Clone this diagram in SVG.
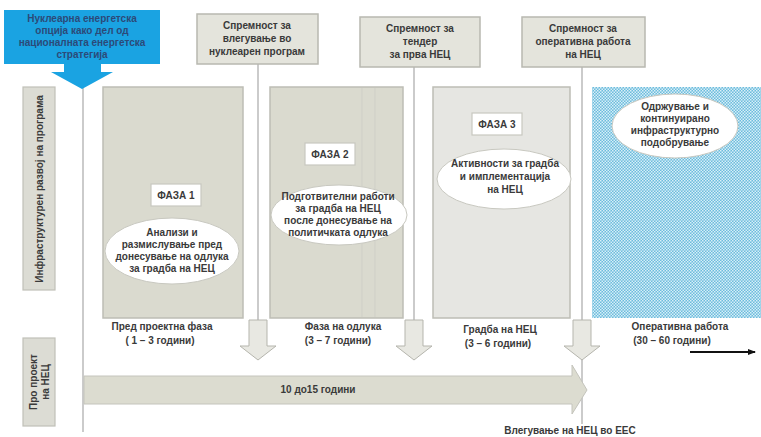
<svg xmlns="http://www.w3.org/2000/svg" width="761" height="437" viewBox="0 0 761 437">
<style>
.t{font-family:"Liberation Sans",Arial,sans-serif;font-weight:bold;font-size:10px;fill:#3a3a3a;text-anchor:middle}
.tb{font-family:"Liberation Sans",Arial,sans-serif;font-weight:bold;font-size:10px;fill:#2c4a78;text-anchor:middle}
.phase{fill:#dadacf;stroke:#bdbdb5;stroke-width:1.5}
.ready{fill:#e4e4dc;stroke:#b8b8b0;stroke-width:1.5}
.lbl{fill:#ffffff;stroke:#c8c8c0;stroke-width:1.2}
.oval{fill:#ffffff;stroke:#c8c8c0;stroke-width:1}
.vl{stroke:#a8a8a8;stroke-width:1.2;fill:none}
.darrow{fill:#e8e8e2;stroke:#b5b5ad;stroke-width:1}
.side{fill:#dcdcd4;stroke:#c0c0b8;stroke-width:1.2}
</style>
<defs>
<pattern id="hatch" width="3" height="3" patternUnits="userSpaceOnUse">
<rect width="3" height="3" fill="#6cbcdc"/>
<rect x="0" y="0" width="1.5" height="1.5" fill="#d8eff8"/>
<rect x="1.5" y="1.5" width="1.5" height="1.5" fill="#d8eff8"/>
</pattern>
<marker id="ah" markerWidth="8" markerHeight="8" refX="7" refY="4" orient="auto" markerUnits="userSpaceOnUse">
<path d="M0,1 L8,4 L0,7 Z" fill="#111"/>
</marker>
</defs>
<rect width="761" height="437" fill="#ffffff"/>

<g id="connectors">
<line class="vl" x1="83" y1="86" x2="83" y2="432"/>
<line class="vl" x1="258" y1="64" x2="258" y2="320"/>
<line class="vl" x1="414" y1="66" x2="414" y2="320"/>
<line class="vl" x1="582" y1="66" x2="582" y2="320"/>
<line class="vl" x1="582" y1="358" x2="582" y2="424"/>
<path class="darrow" d="M249,320 H267 V346 H276 L258,360 L240,346 H249 Z"/>
<path class="darrow" d="M405,320 H423 V346 H432 L414,360 L396,346 H405 Z"/>
<path class="darrow" d="M573,320 H591 V346 H600 L582,360 L564,346 H573 Z"/>
<line x1="690" y1="352" x2="755" y2="352" stroke="#111" stroke-width="2" marker-end="url(#ah)"/>
</g>

<g id="strategy">
<rect x="4" y="10" width="156" height="54" fill="#1aa3e2"/>
<path d="M64,64 H101 V72 H113 L82,89 L51,72 H64 Z" fill="#1aa3e2"/>
<text class="tb" x="82" y="22">Нуклеарна енергетска</text>
<text class="tb" x="82" y="34">опција како дел од</text>
<text class="tb" x="82" y="46">националната енергетска</text>
<text class="tb" x="82" y="58">стратегија</text>
</g>

<g id="side-infra">
<rect class="side" x="23" y="87" width="32" height="203"/>
<text class="t" transform="translate(43,189) rotate(-90)">Инфраструктурен развој на програма</text>
</g>

<g id="side-project">
<rect class="side" x="23" y="338" width="32" height="88"/>
<text class="t" transform="translate(37,382) rotate(-90)">Про проект</text>
<text class="t" transform="translate(49,382) rotate(-90)">на НЕЦ</text>
</g>

<g id="ready1">
<rect class="ready" x="197" y="14" width="121" height="50"/>
<text class="t" x="257" y="29">Спремност за</text>
<text class="t" x="257" y="42">влегување во</text>
<text class="t" x="257" y="55">нуклеарен програм</text>
</g>

<g id="ready2">
<rect class="ready" x="360" y="17" width="120" height="50"/>
<text class="t" x="420" y="32">Спремност за</text>
<text class="t" x="420" y="45">тендер</text>
<text class="t" x="420" y="58">за прва НЕЦ</text>
</g>

<g id="ready3">
<rect class="ready" x="522" y="17" width="123" height="50"/>
<text class="t" x="583" y="32">Спремност за</text>
<text class="t" x="583" y="45">оперативна работа</text>
<text class="t" x="583" y="58">на НЕЦ</text>
</g>

<g id="phase1">
<rect class="phase" x="103" y="87" width="140" height="231"/>
<rect class="lbl" x="151" y="184" width="50" height="22"/>
<text class="t" x="176" y="199">ФАЗА 1</text>
<ellipse class="oval" cx="172" cy="251" rx="67" ry="33"/>
<text class="t" x="172" y="236">Анализи и</text>
<text class="t" x="172" y="248">размислување пред</text>
<text class="t" x="172" y="260">донесување на одлука</text>
<text class="t" x="172" y="272">за градба на НЕЦ</text>
<text class="t" x="162" y="330">Пред проектна фаза</text>
<text class="t" x="160" y="344">( 1 – 3 години)</text>
</g>

<g id="phase2">
<rect class="phase" x="270" y="87" width="133" height="231" fill="#dedcd4"/>
<line x1="362" y1="88" x2="362" y2="317" stroke="#cfcfc7" stroke-width="1"/>
<line x1="375" y1="88" x2="375" y2="317" stroke="#cfcfc7" stroke-width="1"/>
<rect class="lbl" x="305" y="143" width="50" height="22"/>
<text class="t" x="330" y="158">ФАЗА 2</text>
<ellipse class="oval" cx="339" cy="215" rx="68" ry="30"/>
<text class="t" x="338" y="200">Подготвителни работи</text>
<text class="t" x="338" y="212">за градба на НЕЦ</text>
<text class="t" x="338" y="224">после донесување на</text>
<text class="t" x="338" y="236">политичката одлука</text>
<text class="t" x="343" y="330">Фаза на одлука</text>
<text class="t" x="338" y="344">(3 – 7 години)</text>
</g>

<g id="phase3">
<rect class="phase" x="433" y="87" width="137" height="231" style="fill:#e6e6e2"/>
<rect class="lbl" x="472" y="113" width="50" height="22"/>
<text class="t" x="497" y="128">ФАЗА 3</text>
<ellipse class="oval" cx="504" cy="179" rx="67" ry="30"/>
<text class="t" x="505" y="167">Активности за градба</text>
<text class="t" x="505" y="180">и имплементација</text>
<text class="t" x="505" y="193">на НЕЦ</text>
<text class="t" x="500" y="333">Градба на НЕЦ</text>
<text class="t" x="498" y="347">(3 – 6 години)</text>
</g>

<g id="operation">
<rect x="592" y="87" width="169" height="231" fill="url(#hatch)"/>
<ellipse class="oval" cx="675" cy="126" rx="63" ry="32"/>
<text class="t" x="675" y="110">Одржување и</text>
<text class="t" x="675" y="122">континуирано</text>
<text class="t" x="675" y="134">инфраструктурно</text>
<text class="t" x="675" y="146">подобрување</text>
<text class="t" x="680" y="330">Оперативна работа</text>
<text class="t" x="672" y="344">(30 – 60 години)</text>
</g>

<g id="duration">
<path d="M84,376 H572 V365 L587,390 L572,414 V404 H84 Z" fill="#dcdcd0" stroke="#c4c4bc" stroke-width="1"/>
<text class="t" x="318" y="393">10 до15 години</text>
</g>

<g id="entry">
<text class="t" x="570" y="434">Влегување на НЕЦ во ЕЕС</text>
</g>
</svg>
